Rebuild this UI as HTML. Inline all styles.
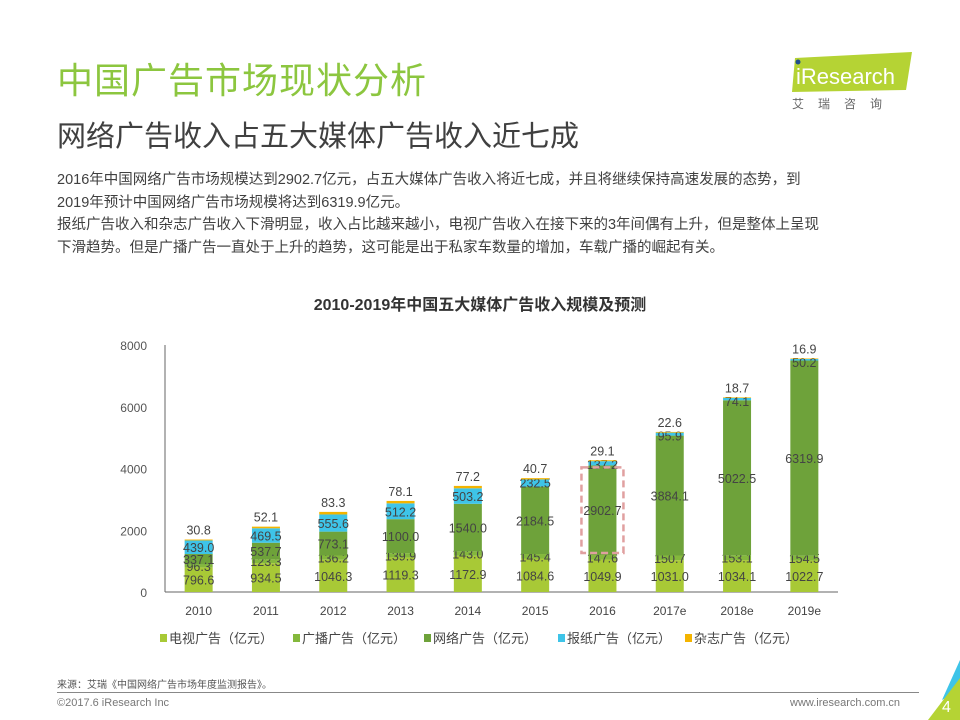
<!DOCTYPE html>
<html><head><meta charset="utf-8">
<style>
body{margin:0;width:960px;height:720px;background:#fff;overflow:hidden;position:relative;font-family:"Liberation Sans","Noto Sans CJK SC",sans-serif;}
.abs{position:absolute;}
</style></head><body>
<div class="abs" style="left:57px;top:52px;font-size:36px;color:#8cc63f;letter-spacing:1px;">中国广告市场现状分析</div>
<div class="abs" style="left:57px;top:113px;font-size:29px;color:#404040;">网络广告收入占五大媒体广告收入近七成</div>
<div class="abs" style="left:57px;top:169px;width:860px;font-size:14.5px;line-height:22.5px;color:#404040;">2016年中国网络广告市场规模达到2902.7亿元，占五大媒体广告收入将近七成，并且将继续保持高速发展的态势，到<br>2019年预计中国网络广告市场规模将达到6319.9亿元。<br>报纸广告收入和杂志广告收入下滑明显，收入占比越来越小，电视广告收入在接下来的3年间偶有上升，但是整体上呈现<br>下滑趋势。但是广播广告一直处于上升的趋势，这可能是出于私家车数量的增加，车载广播的崛起有关。</div>
<svg class="abs" style="left:790px;top:50px" width="130" height="70">
<polygon points="5,8 122,2 116,40 2,42" fill="#b5d334"/>
<circle cx="8" cy="12" r="2.5" fill="#1f4e8c"/>
<text x="6" y="34" font-size="22" fill="#fff" font-family="Liberation Sans,sans-serif">iResearch</text>
<text x="2" y="58" font-size="12" fill="#666" letter-spacing="14">艾瑞咨询</text>
</svg>
<svg id="chart" class="abs" style="left:0;top:0" width="960" height="720"></svg>
<div class="abs" style="left:57px;top:676px;font-size:10px;color:#555;">来源：艾瑞《中国网络广告市场年度监测报告》。</div>
<div class="abs" style="left:57px;top:692px;width:862px;height:1px;background:#888;"></div>
<div class="abs" style="left:57px;top:697px;font-size:11px;color:#777;">©2017.6 iResearch Inc</div>
<div class="abs" style="left:790px;top:697px;font-size:11px;color:#777;">www.iresearch.com.cn</div>
<svg class="abs" style="left:920px;top:660px" width="40" height="60">
<polygon points="40,0 40,30 22,40" fill="#3ec4e8"/><polygon points="40,18 40,60 8,60" fill="#b5d334"/>
<text x="22" y="52" font-size="16" fill="#fff">4</text></svg>
<script>
const categories=["2010","2011","2012","2013","2014","2015","2016","2017e","2018e","2019e"];
const tv=[796.6,934.5,1046.3,1119.3,1172.9,1084.6,1049.9,1031.0,1034.1,1022.7];
const radio=[96.3,123.3,136.2,139.9,143.0,145.4,147.6,150.7,153.1,154.5];
const online=[337.1,537.7,773.1,1100.0,1540.0,2184.5,2902.7,3884.1,5022.5,6319.9];
const newspaper=[439.0,469.5,555.6,512.2,503.2,232.5,137.2,95.9,74.1,50.2];
const magazine=[30.8,52.1,83.3,78.1,77.2,40.7,29.1,22.6,18.7,16.9];
const yTicks=[0,2000,4000,6000,8000];
const seriesNames=["电视广告（亿元）","广播广告（亿元）","网络广告（亿元）","报纸广告（亿元）","杂志广告（亿元）"];
const colors=["#a8c936","#84b83c","#6ea23a","#3ec4e8","#f4b400"];
const svg=document.getElementById('chart');const NS='http://www.w3.org/2000/svg';
const x0=165,x1=838,y0=592,yTop=345,ymax=8000;
const y=v=>y0-(v/ymax)*(y0-yTop);
const band=(x1-x0)/categories.length;
const xc=i=>x0+band*(i+0.5);
function mk(t,a){const e=document.createElementNS(NS,t);for(const k in a)e.setAttribute(k,a[k]);svg.appendChild(e);return e;}
let t=mk('text',{x:480,y:310,'text-anchor':'middle','font-size':16,'font-weight':'bold',fill:'#333'});t.textContent='2010-2019年中国五大媒体广告收入规模及预测';


yTicks.forEach(v=>{const e=mk('text',{x:147,y:y(v)+5,'text-anchor':'end','font-size':12,fill:'#555'});e.textContent=v;

});
let ax=mk('line',{x1:x0,y1:yTop,x2:x0,y2:y0,stroke:'#666'});


let bx=mk('line',{x1:x0,y1:y0,x2:x1,y2:y0,stroke:'#666'});


const series=[tv,radio,online,newspaper,magazine];
const bw=28;
categories.forEach((c,i)=>{
 let base=0;
 series.forEach((s,k)=>{
  const v=s[i];const r=mk('rect',{x:xc(i)-bw/2,y:y(base+v),width:bw,height:y(base)-y(base+v),fill:colors[k]});
  
  
  let ly=k===4?y(base+v)-5:(y(base)+y(base+v))/2+5;
  if(k===3&&i>=5) ly=y(base+v)+8;
  const l=mk('text',{x:xc(i),y:ly,'text-anchor':'middle','font-size':12.5,fill:'#444'});l.textContent=v.toFixed(1);
  
  
  base+=v;
 });
 const xl=mk('text',{x:xc(i),y:615,'text-anchor':'middle','font-size':12,fill:'#444'});xl.textContent=c;
 
 
});
const hi=categories.indexOf("2016");
const hb=mk('rect',{x:xc(hi)-21,y:y(tv[hi]+radio[hi]+online[hi])+2,width:42,height:y(tv[hi]+radio[hi])-y(tv[hi]+radio[hi]+online[hi])-4,fill:'none',stroke:'#e0a0a0','stroke-width':2.5,'stroke-dasharray':'7,4'});


const lx=[160,293,424,558,685];
seriesNames.forEach((n,k)=>{
 const r=mk('rect',{x:lx[k],y:634,width:7,height:8,fill:colors[k]});
 
 
 const tt=mk('text',{x:lx[k]+9,y:643,'font-size':13,fill:'#444'});tt.textContent=n;
 
 
});
</script>
</body></html>
